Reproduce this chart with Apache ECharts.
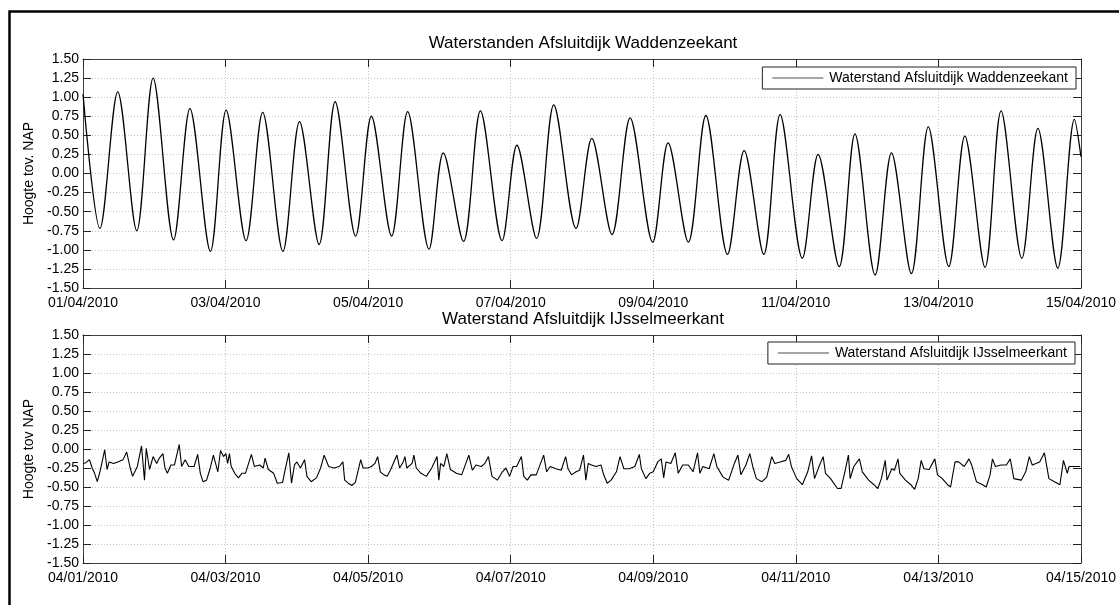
<!DOCTYPE html>
<html>
<head>
<meta charset="utf-8">
<script src="https://cdn.jsdelivr.net/npm/echarts@6/dist/echarts.min.js"></script>
<style>html,body{margin:0;padding:0;background:#fff}#c{width:1119px;height:605px}</style>
</head>
<body>
<div id="c"></div>
<script>
// Time in hours since 01/04/2010 00:00, water level in m NAP
const waddenHours = [0, 5.7, 11.7, 18.1, 23.6, 30.5, 36.0, 42.9, 48.2, 54.9, 60.5, 67.3, 72.9, 79.5, 84.9, 91.8, 97.1, 103.9, 109.3, 116.5, 121.3, 128.1, 133.8, 141.1, 146.1, 152.7, 158.5, 166.0, 171.3, 178.1, 184.2, 191.8, 197.0, 203.8, 209.7, 217.0, 222.6, 229.2, 234.7, 242.2, 247.5, 254.6, 259.9, 266.7, 272.2, 278.9, 284.6, 291.5, 296.9, 303.7, 309.1, 316.1, 321.5, 328.2, 333.8, 336];
const waddenLevels = [1.04, -0.72, 1.07, -0.75, 1.25, -0.87, 0.85, -1.02, 0.83, -0.88, 0.80, -1.02, 0.68, -0.93, 0.94, -0.82, 0.75, -0.82, 0.81, -0.99, 0.27, -0.89, 0.82, -0.88, 0.37, -0.85, 0.90, -0.72, 0.46, -0.80, 0.73, -0.90, 0.40, -0.90, 0.76, -1.06, 0.30, -1.06, 0.77, -1.11, 0.25, -1.22, 0.52, -1.33, 0.27, -1.31, 0.61, -1.22, 0.49, -1.23, 0.82, -1.11, 0.59, -1.24, 0.71, 0.22];

const ijsselHours = [0, 0.96, 2.15, 3.1, 3.9, 4.8, 5.7, 7.3, 8.1, 8.8, 10.3, 11.7, 13.5, 14.7, 15.9, 16.7, 18.3, 19.7, 20.7, 21.3, 22.4, 23.6, 24.8, 25.7, 26.9, 27.6, 28.4, 29.6, 30.8, 32.4, 33.2, 34.4, 35.6, 37.4, 38.6, 39.5, 40.4, 41.6, 42.7, 43.9, 45.4, 46.3, 47.3, 48.1, 48.7, 49.3, 49.9, 51.1, 52.3, 53.5, 54.7, 56.7, 57.7, 59.5, 60.7, 61.3, 62.4, 64.2, 65.4, 67.2, 67.8, 69.3, 70.2, 71.2, 72.0, 73.2, 74.6, 75.4, 76.8, 78.6, 80.0, 81.2, 82.7, 84.5, 86.3, 87.5, 88.1, 89.3, 90.5, 91.7, 93.5, 94.3, 95.9, 97.1, 98.3, 99.2, 100.1, 101.3, 102.4, 103.6, 105.7, 106.6, 107.8, 108.4, 109.0, 110.8, 111.4, 112.2, 113.8, 115.6, 117.4, 119.2, 119.8, 120.4, 121.5, 122.5, 123.7, 125.7, 127.5, 129.9, 131.1, 132.3, 134.1, 135.3, 136.5, 137.7, 139.5, 141.2, 142.4, 143.6, 144.8, 146.0, 147.6, 148.4, 149.6, 150.8, 152.6,
  155.1, 156.1, 157.3, 159.2, 161.0, 162.5, 163.3, 164.5, 166.0, 167.2, 168.5, 169.3, 170.1, 171.2, 172.8, 174.4, 175.3, 176.5, 177.8, 179.6, 180.8, 182.1, 183.9, 185.8, 187.3, 188.0, 189.5, 190.8, 192.0, 193.5, 194.7, 195.5, 196.3, 197.9, 199.4, 200.4, 201.9, 203.8, 205.4, 206.9, 207.7, 208.7, 210.8, 212.4, 213.4, 215.5, 217.4, 219.3, 220.5, 221.5, 223.2, 224.5, 225.5, 226.7, 228.6, 230.2, 231.9, 232.9, 234.7, 236.6, 237.6, 238.5, 240.3, 242.2, 244.0, 245.3, 246.3, 247.8, 249.2, 250.0, 251.7, 254.0, 255.2, 256.4, 257.7, 258.3, 259.5, 261.4, 262.4, 264.5, 266.3, 267.6, 268.8, 270.1, 270.7, 272.3, 273.2, 274.4, 275.0, 276.9, 278.7, 280.0, 281.2, 282.2, 283.1, 284.9, 286.8, 287.7, 289.3, 291.1, 292.1, 293.6, 294.8, 296.7, 298.3, 299.2, 300.8, 302.9, 304.1, 305.4, 306.2, 307.2, 309.1, 310.9, 312.2, 313.4, 315.9, 317.4, 318.6, 319.6, 322.1, 323.7, 325.2, 327.1, 328.9, 330.1, 331.4, 332.0, 333.9, 335.7];
const ijsselLevels = [-0.19, -0.18, -0.14, -0.25, -0.32, -0.43, -0.30, -0.01, -0.27, -0.17, -0.19, -0.17, -0.14, -0.04, -0.25, -0.36, -0.23, 0.04, -0.41, 0.01, -0.27, -0.10, -0.19, -0.12, -0.06, -0.25, -0.32, -0.21, -0.21, 0.06, -0.23, -0.14, -0.23, -0.23, -0.07, -0.32, -0.43, -0.41, -0.27, -0.08, -0.30, -0.02, -0.10, -0.06, -0.19, -0.06, -0.23, -0.32, -0.38, -0.32, -0.32, -0.07, -0.23, -0.21, -0.25, -0.12, -0.27, -0.32, -0.45, -0.44, -0.32, -0.05, -0.45, -0.21, -0.17, -0.25, -0.14, -0.36, -0.43, -0.38, -0.25, -0.08, -0.23, -0.25, -0.23, -0.17, -0.41, -0.45, -0.48, -0.44, -0.14, -0.25, -0.25, -0.23, -0.19, -0.10, -0.30, -0.34, -0.36, -0.27, -0.08, -0.25, -0.17, -0.10, -0.25, -0.19, -0.08, -0.25, -0.32, -0.36, -0.25, -0.10, -0.41, -0.19, -0.23, -0.06, -0.27, -0.32, -0.34, -0.08, -0.28, -0.21, -0.23, -0.19, -0.10, -0.36, -0.41, -0.30, -0.25, -0.36, -0.23, -0.23, -0.10, -0.36, -0.41, -0.34, -0.34,
  -0.08, -0.30, -0.23, -0.26, -0.28, -0.10, -0.26, -0.34, -0.30, -0.28, -0.08, -0.41, -0.19, -0.21, -0.23, -0.21, -0.34, -0.45, -0.41, -0.30, -0.10, -0.26, -0.26, -0.23, -0.07, -0.26, -0.39, -0.32, -0.30, -0.17, -0.13, -0.38, -0.17, -0.19, -0.05, -0.32, -0.21, -0.21, -0.30, -0.05, -0.32, -0.23, -0.26, -0.06, -0.23, -0.37, -0.41, -0.19, -0.08, -0.34, -0.21, -0.06, -0.23, -0.39, -0.43, -0.37, -0.10, -0.19, -0.17, -0.15, -0.07, -0.23, -0.39, -0.47, -0.30, -0.09, -0.39, -0.23, -0.10, -0.32, -0.39, -0.52, -0.52, -0.32, -0.08, -0.39, -0.23, -0.13, -0.30, -0.41, -0.47, -0.52, -0.39, -0.15, -0.41, -0.26, -0.28, -0.13, -0.32, -0.41, -0.47, -0.53, -0.39, -0.15, -0.26, -0.27, -0.13, -0.34, -0.39, -0.47, -0.50, -0.17, -0.17, -0.23, -0.13, -0.21, -0.43, -0.47, -0.50, -0.34, -0.13, -0.23, -0.21, -0.21, -0.13, -0.39, -0.41, -0.30, -0.10, -0.21, -0.17, -0.05, -0.39, -0.43, -0.47, -0.15, -0.32, -0.23, -0.23, -0.23];

const topTickLabels = ['01/04/2010', '03/04/2010', '05/04/2010', '07/04/2010', '09/04/2010', '11/04/2010', '13/04/2010', '15/04/2010'];
const bottomTickLabels = ['04/01/2010', '04/03/2010', '04/05/2010', '04/07/2010', '04/09/2010', '04/11/2010', '04/13/2010', '04/15/2010'];
const topTitle = 'Waterstanden Afsluitdijk Waddenzeekant';
const bottomTitle = 'Waterstand Afsluitdijk IJsselmeerkant';
const topSeriesName = 'Waterstand Afsluitdijk Waddenzeekant';
const bottomSeriesName = 'Waterstand Afsluitdijk IJsselmeerkant';
const topYName = 'Hoogte tov. NAP';
const bottomYName = 'Hoogte tov NAP';

const FONT = '"Liberation Sans", Arial, Helvetica, sans-serif';
const AX = '#404040';

function zip(a, b) { return a.map((h, i) => [h, b[i]]); }

function xAxisPair(gridIndex, labels) {
  return [
    {
      type: 'value', gridIndex, min: 0, max: 336, interval: 48, position: 'bottom',
      axisLine: { show: true, onZero: false, lineStyle: { color: AX, width: 1 } },
      axisTick: { show: true, inside: true, length: 8, lineStyle: { color: '#222' } },
      axisLabel: { show: true, margin: 8, color: '#000', fontFamily: FONT, fontSize: 14,
        formatter: v => labels[Math.round(v / 48)] },
      splitLine: { show: true, lineStyle: { color: '#c4c4c4', type: [1, 2], width: 1 } }
    },
    {
      type: 'value', gridIndex, min: 0, max: 336, interval: 48, position: 'top',
      axisLine: { show: true, onZero: false, lineStyle: { color: AX, width: 1 } },
      axisTick: { show: true, inside: true, length: 8, lineStyle: { color: '#222' } },
      axisLabel: { show: false }, splitLine: { show: false }
    }
  ];
}

function yAxisPair(gridIndex, name) {
  return [
    {
      type: 'value', gridIndex, min: -1.5, max: 1.5, interval: 0.25, position: 'left',
      name, nameLocation: 'middle', nameGap: 46,
      nameTextStyle: { color: '#000', fontFamily: FONT, fontSize: 14 },
      axisLine: { show: true, onZero: false, lineStyle: { color: AX, width: 1 } },
      axisTick: { show: true, inside: true, length: 8, lineStyle: { color: '#222' } },
      axisLabel: { margin: 4, color: '#000', fontFamily: FONT, fontSize: 14, formatter: v => v.toFixed(2) },
      splitLine: { show: true, lineStyle: { color: '#c4c4c4', type: [1, 2], width: 1 } }
    },
    {
      type: 'value', gridIndex, min: -1.5, max: 1.5, interval: 0.25, position: 'right',
      axisLine: { show: true, onZero: false, lineStyle: { color: AX, width: 1 } },
      axisTick: { show: true, inside: true, length: 8, lineStyle: { color: '#222' } },
      axisLabel: { show: false }, splitLine: { show: false }
    }
  ];
}

function legendFor(name, top, right) {
  return {
    data: [{ name, icon: 'rect', itemStyle: { color: '#888' } }],
    top, right, orient: 'horizontal',
    backgroundColor: '#fff', borderColor: '#222', borderWidth: 1,
    padding: [4, 8, 4, 10], itemWidth: 51, itemHeight: 1.5, itemGap: 0,
    textStyle: { color: '#000', fontFamily: FONT, fontSize: 14, padding: [0, 0, 0, 1] },
    selectedMode: false
  };
}

const chart = echarts.init(document.getElementById('c'), null, { renderer: 'canvas' });
chart.setOption({
  animation: false,
  backgroundColor: '#fff',
  title: [
    { text: topTitle, left: 583, top: 35, textAlign: 'center', padding: 0,
      textStyle: { fontFamily: FONT, fontSize: 17, fontWeight: 'normal', color: '#000' } },
    { text: bottomTitle, left: 583, top: 311, textAlign: 'center', padding: 0,
      textStyle: { fontFamily: FONT, fontSize: 17, fontWeight: 'normal', color: '#000' } }
  ],
  grid: [
    { left: 83, top: 59, width: 1000, height: 229 },
    { left: 83, top: 335, width: 1000, height: 228 }
  ],
  xAxis: [...xAxisPair(0, topTickLabels), ...xAxisPair(1, bottomTickLabels)],
  yAxis: [...yAxisPair(0, topYName), ...yAxisPair(1, bottomYName)],
  legend: [legendFor(topSeriesName, 67, 43), legendFor(bottomSeriesName, 342, 44)],
  graphic: [
    { type: 'rect', silent: true, z: 100,
      shape: { x: 9.5, y: 11.5, width: 1400, height: 800 },
      style: { fill: 'none', stroke: '#000', lineWidth: 2.5 } }
  ],
  series: [
    { name: topSeriesName, type: 'line', xAxisIndex: 0, yAxisIndex: 0,
      data: zip(waddenHours, waddenLevels), smooth: 0.32, symbol: 'none',
      lineStyle: { color: '#000', width: 1.3 }, itemStyle: { color: '#000' } },
    { name: bottomSeriesName, type: 'line', xAxisIndex: 2, yAxisIndex: 2,
      data: zip(ijsselHours, ijsselLevels), smooth: false, symbol: 'none',
      lineStyle: { color: '#000', width: 1.1 }, itemStyle: { color: '#000' } }
  ]
});
</script>
</body>
</html>
